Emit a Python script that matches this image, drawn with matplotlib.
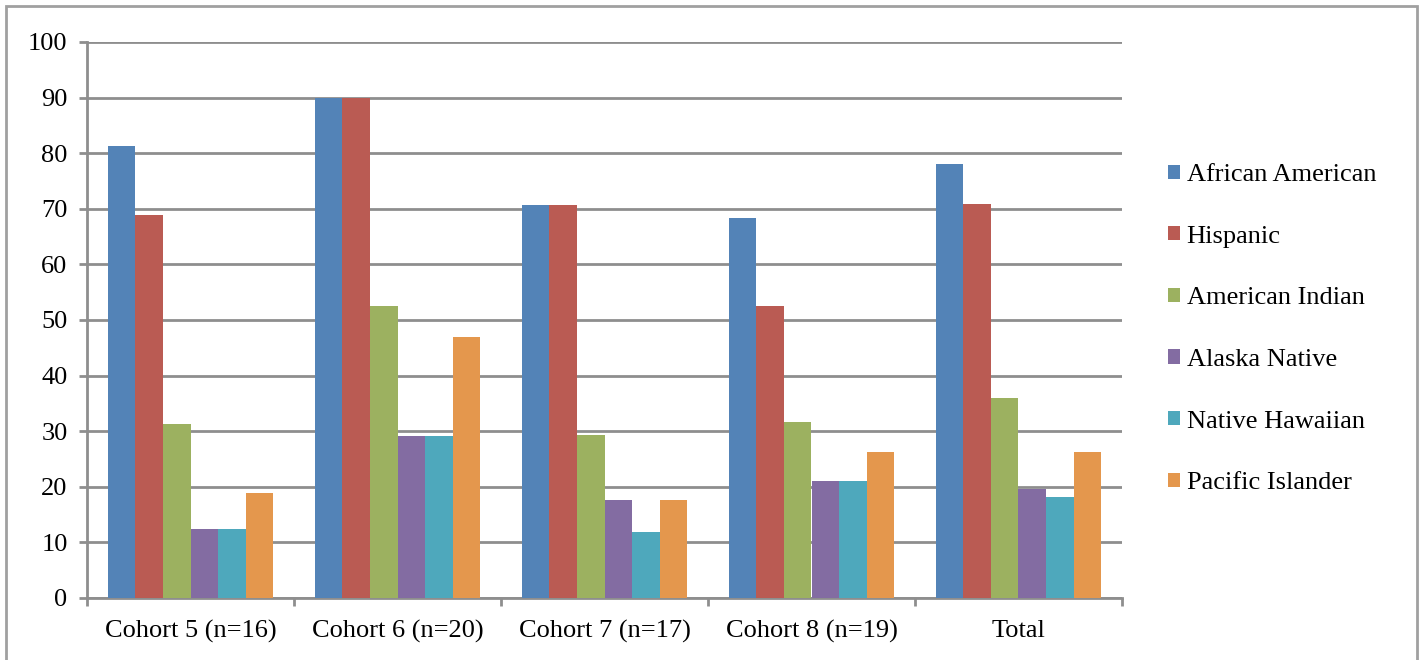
import matplotlib
matplotlib.use("Agg")
import matplotlib.pyplot as plt
import numpy as np
from matplotlib.patches import Rectangle, Patch

categories = ["Cohort 5 (n=16)", "Cohort 6 (n=20)", "Cohort 7 (n=17)", "Cohort 8 (n=19)", "Total"]
series_names = ["African American", "Hispanic", "American Indian",
                "Alaska Native", "Native Hawaiian", "Pacific Islander"]
african_american = [81.3, 90.0, 70.6, 68.4, 78.1]
hispanic = [68.8, 90.0, 70.6, 52.6, 70.9]
american_indian = [31.3, 52.6, 29.4, 31.6, 36.0]
alaska_native = [12.5, 29.1, 17.6, 21.1, 19.6]
native_hawaiian = [12.5, 29.1, 11.8, 21.1, 18.2]
pacific_islander = [18.8, 47.0, 17.6, 26.3, 26.3]
series_values = [african_american, hispanic, american_indian,
                 alaska_native, native_hawaiian, pacific_islander]
colors = ["#5383B7", "#BA5B53", "#9CB160", "#836CA2", "#4EA8BC", "#E4974D"]
y_ticks = list(range(0, 101, 10))

plt.rcParams["font.family"] = ["Liberation Serif", "DejaVu Serif"]
FS = 19

fig = plt.figure(figsize=(14.24, 6.6), dpi=100)
ax = fig.add_axes([87 / 1424, 1 - 598 / 660, (1122 - 87) / 1424, (598 - 42) / 660])

grid_color = "#8E8E8E"
n_series = len(series_values)
bar_w = 0.8 / n_series
x = np.arange(len(categories))
for i, (vals, col) in enumerate(zip(series_values, colors)):
    offs = (i - (n_series - 1) / 2) * bar_w
    ax.bar(x + offs, vals, width=bar_w, color=col, edgecolor="none", zorder=3)

ax.set_xlim(-0.5, len(categories) - 0.5)
ax.set_ylim(0, 100)
ax.set_yticks(y_ticks)
ax.set_yticklabels([str(t) for t in y_ticks], fontsize=FS)
ax.yaxis.grid(True, color=grid_color, linewidth=2, zorder=0)
ax.set_axisbelow(True)

# category labels centred under groups, tick marks on group boundaries
ax.set_xticks(np.arange(-0.5, len(categories), 1.0))
ax.set_xticklabels([])
ax.set_xticks(x, minor=True)
ax.set_xticklabels(categories, minor=True, fontsize=FS)
ax.tick_params(axis="x", which="minor", length=0, pad=16)
ax.tick_params(axis="x", which="major", length=6, width=2, color=grid_color, direction="out")
ax.tick_params(axis="y", length=6, width=2, color=grid_color, direction="out", pad=8)

for side in ["top", "right"]:
    ax.spines[side].set_visible(False)
for side in ["left", "bottom"]:
    ax.spines[side].set_color(grid_color)
    ax.spines[side].set_linewidth(2)

handles = [Patch(facecolor=c, edgecolor="none") for c in colors]
fig.legend(handles, series_names, loc="upper left",
           bbox_to_anchor=(1155 / 1424, 1 - 151 / 660), frameon=False,
           fontsize=FS, handlelength=0.45, handleheight=0.45,
           handletextpad=0.25, labelspacing=1.5, borderpad=0)

# outer chart frame
fig.add_artist(Rectangle((6 / 1424, -0.05), (1417 - 6) / 1424, 1.05 - 6 / 660,
                         transform=fig.transFigure, fill=False,
                         edgecolor="#A0A0A0", linewidth=2, clip_on=False))

fig.savefig("out.png", dpi=100)
